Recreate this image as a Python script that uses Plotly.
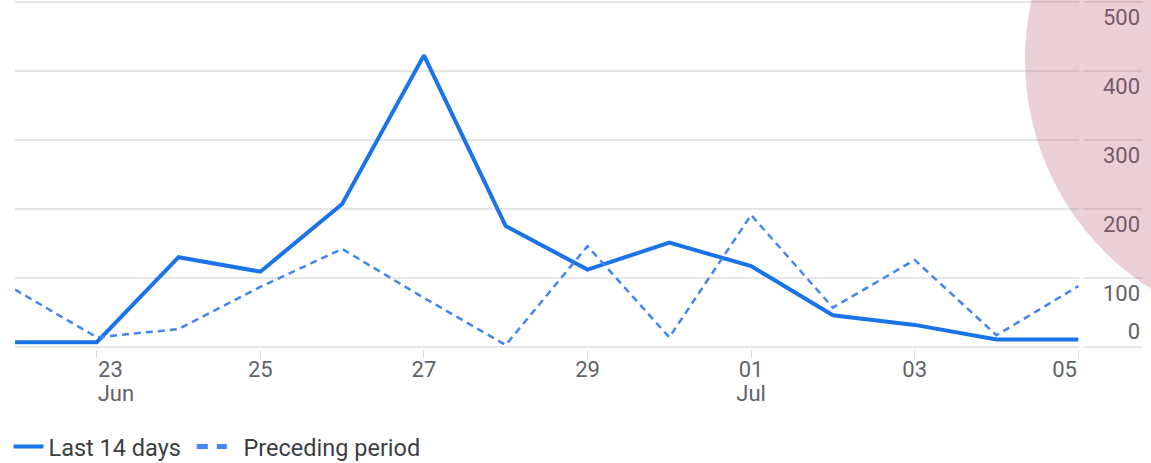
import plotly.graph_objects as go
import pandas as pd

dates = pd.date_range("2024-06-22", "2024-07-05", freq="D")
last_14_days = [7, 7, 130, 109, 207, 422, 175, 112, 151, 117, 46, 32, 11, 11]
preceding_period = [83, 14, 26, 87, 142, 71, 3, 146, 14, 191, 57, 126, 17, 88]

NB = "\u00a0"
x_tick_dates = ["2024-06-23", "2024-06-25", "2024-06-27", "2024-06-29",
                "2024-07-01", "2024-07-03", "2024-07-05"]
x_tick_labels = [NB * 5 + "23", "25", "27", "29", "01", "03", "05" + NB * 5]
month_tick_dates = ["2024-06-23", "2024-07-01"]
month_tick_labels = [NB * 7 + "Jun", "Jul"]
y_tick_values = [0, 100, 200, 300, 400, 500]
y_tick_labels = ["0", "100", "200", "300", "400", "500"]

FONT = "Roboto"
TICK_COLOR = "#5f6368"
GRID = "#e6e6e6"

fig = go.Figure()
fig.add_trace(go.Scatter(
    x=dates, y=last_14_days, name="Last 14 days" + NB, mode="lines",
    line=dict(color="#1a73e8", width=4),
))
fig.add_trace(go.Scatter(
    x=dates, y=preceding_period, name="Preceding period", mode="lines",
    line=dict(color="#4285f4", width=2.5, dash="7px,5px"), showlegend=False,
))
# legend entry for the preceding period (thicker dashes, like the reference)
fig.add_trace(go.Scatter(
    x=[None], y=[None], name=NB * 2 + "Preceding period", mode="lines",
    line=dict(color="#4285f4", width=5, dash="11px,9px"),
))
# invisible helper traces to drive the label axes
fig.add_trace(go.Scatter(x=[dates[0]], y=[0], yaxis="y2", showlegend=False,
                         mode="markers", marker=dict(opacity=0), hoverinfo="skip"))
fig.add_trace(go.Scatter(x=[dates[0]], y=[0], xaxis="x2", showlegend=False,
                         mode="markers", marker=dict(opacity=0), hoverinfo="skip"))

x_range = [dates[0], dates[-1] + pd.Timedelta(hours=19)]
label_pos = [v + 23 if v == 0 else v - 23 for v in y_tick_values]
y_range = [-2.9, 502.2]

fig.update_layout(
    width=1151, height=463,
    margin=dict(l=15, r=8, t=0, b=114, autoexpand=False),
    paper_bgcolor="white", plot_bgcolor="white",
    font=dict(family=FONT, size=22, color=TICK_COLOR),
    xaxis=dict(
        range=x_range,
        tickmode="array", tickvals=x_tick_dates, ticktext=x_tick_labels,
        showgrid=False, zeroline=False, showline=False,
        ticks="outside", ticklen=8, tickcolor="#dadce0", tickwidth=1,
        ticklabelstandoff=-7,
        tickfont=dict(family=FONT, size=22, color=TICK_COLOR),
    ),
    xaxis2=dict(
        range=x_range, overlaying="x", side="bottom", anchor="y",
        tickmode="array", tickvals=month_tick_dates, ticktext=month_tick_labels,
        showgrid=False, zeroline=False, showline=False,
        ticks="outside", ticklen=8, tickcolor="rgba(0,0,0,0)",
        ticklabelstandoff=17,
        tickfont=dict(family=FONT, size=22, color=TICK_COLOR),
    ),
    yaxis=dict(
        range=y_range, tickvals=y_tick_values, showticklabels=False,
        showgrid=True, gridcolor=GRID, gridwidth=1.5, zeroline=False,
        fixedrange=True,
    ),
    yaxis2=dict(
        range=y_range, overlaying="y", side="right",
        tickmode="array", tickvals=label_pos, ticktext=y_tick_labels,
        ticklabelposition="inside", showgrid=False, zeroline=False,
        tickfont=dict(family=FONT, size=22, color=TICK_COLOR),
    ),
    legend=dict(
        orientation="h", xref="container", yref="container",
        x=0.0074, xanchor="left", y=0.035, yanchor="middle",
        font=dict(family=FONT, size=23.5, color="#3c4043"),
        itemwidth=30, bgcolor="rgba(0,0,0,0)",
    ),
    showlegend=True,
)

# small gap in gridlines just past the last date
fig.add_shape(type="rect", xref="x", yref="y",
              x0=dates[-1] + pd.Timedelta(hours=0.3), x1=dates[-1] + pd.Timedelta(hours=1.5),
              y0=y_range[0], y1=y_range[1], fillcolor="white", line=dict(width=0),
              layer="between")

# decorative pink circle
fig.add_shape(type="circle", xref="paper", yref="paper",
              x0=0.8954, x1=1.3706, y0=0.0549, y1=1.604,
              fillcolor="rgba(179,67,99,0.25)", line=dict(width=0), layer="above")

fig.write_html("out.html")
